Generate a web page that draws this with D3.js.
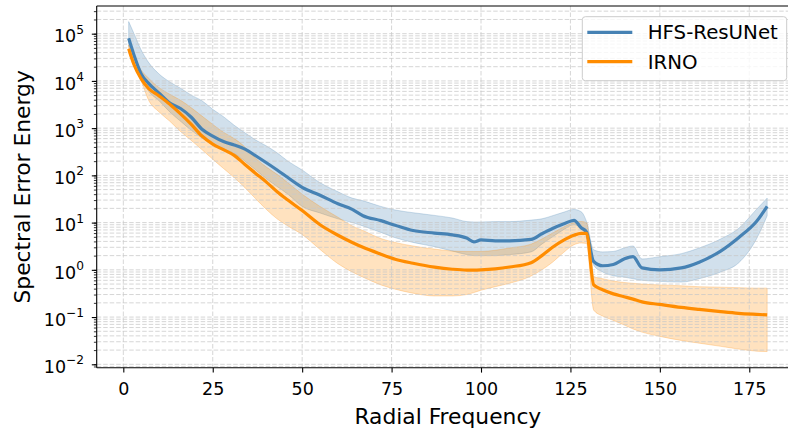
<!DOCTYPE html>
<html>
<head>
<meta charset="utf-8">
<script src="https://cdn.jsdelivr.net/npm/d3@7"></script>
<style>
  html, body { margin: 0; padding: 0; background: #ffffff; }
  svg { display: block; font-family: "DejaVu Sans", sans-serif; }
</style>
</head>
<body>
<svg id="chart" width="788" height="434"></svg>
<script>
// Radial frequency samples shared by every series
const freq = [1.5, 3, 5, 7, 10, 13, 16, 19, 22, 25, 28, 31, 34, 37, 40, 43, 46, 50, 55, 60,
  64, 67, 72, 76, 81, 87, 92, 96, 98, 100, 104, 108, 114, 117, 120, 123, 126, 128, 129.5, 131.5,
  134, 137, 140, 142.5, 145, 150, 156, 161, 167, 172, 177, 180];

// HFS-ResUNet: mean spectral error energy and its spread
const hfsMean = [80000, 35000, 14000, 9000, 5500, 3400, 2600, 1700, 950, 680, 520, 440, 360, 260, 185, 130, 90, 56, 38, 25,
  19, 14, 11, 8.8, 6.8, 6.0, 5.5, 4.7, 3.9, 4.3, 4.1, 4.1, 4.4, 5.8, 7.5, 9.3, 11.2, 7.8, 6.3, 1.5,
  1.22, 1.3, 1.7, 1.9, 1.1, 1.0, 1.1, 1.45, 2.5, 4.8, 10.5, 22];
const hfsLow = [55000, 30000, 12000, 6200, 3800, 2200, 1400, 900, 620, 460, 360, 290, 200, 130, 85, 58, 40, 22, 16, 12,
  10, 8.5, 6.2, 4.8, 3.8, 3.1, 2.5, 2.1, 2.0, 2.0, 2.0, 2.1, 2.4, 3.5, 5.0, 7.0, 9.0, 7.5, 5.5, 1.25,
  0.9, 0.75, 0.7, 0.65, 0.6, 0.57, 0.55, 0.65, 0.9, 1.4, 4.5, 14];
const hfsHigh = [180000, 100000, 45000, 25000, 14000, 9500, 7000, 5000, 3800, 2500, 1750, 1150, 800, 560, 420, 300, 200, 130, 70, 45,
  33, 29, 22, 18.5, 16.2, 14.2, 12.5, 10.5, 10.3, 10.3, 10.5, 10.5, 11.3, 12, 14, 16.5, 19, 17, 10.5, 2.65,
  2.4, 2.45, 2.9, 3.2, 1.7, 1.9, 2.2, 2.9, 4.5, 7.5, 19, 33];

// IRNO: mean spectral error energy and its spread
const irnoMean = [48000, 22000, 11000, 7000, 4800, 3200, 2000, 1200, 680, 460, 350, 265, 170, 110, 72, 45, 30, 18, 9, 5.4,
  3.8, 3.0, 2.15, 1.68, 1.38, 1.14, 1.03, 0.99, 0.99, 1.0, 1.05, 1.15, 1.42, 2.0, 3.0, 4.2, 5.4, 5.9, 5.9, 0.48,
  0.38, 0.31, 0.27, 0.24, 0.21, 0.185, 0.16, 0.145, 0.13, 0.12, 0.114, 0.111];
const irnoLow = [40000, 20000, 10000, 4000, 2200, 1400, 850, 550, 350, 220, 140, 90, 55, 32, 19, 12, 8.5, 5.6, 2.7, 1.35,
  0.9, 0.7, 0.48, 0.39, 0.32, 0.28, 0.28, 0.3, 0.33, 0.37, 0.44, 0.52, 0.74, 1.0, 1.45, 2.3, 3.4, 3.7, 3.6, 0.14,
  0.105, 0.085, 0.068, 0.056, 0.048, 0.039, 0.032, 0.028, 0.024, 0.021, 0.019, 0.0186];
const irnoHigh = [58000, 32000, 17000, 11500, 7200, 5200, 3900, 2700, 1800, 1200, 820, 600, 400, 230, 150, 105, 70, 40, 22, 13,
  8.5, 6.8, 4.6, 3.8, 3.2, 2.75, 2.5, 2.45, 2.45, 2.45, 2.6, 2.9, 3.5, 4.5, 6.0, 8.0, 10.0, 10.5, 10.0, 0.72,
  0.65, 0.58, 0.54, 0.52, 0.5, 0.48, 0.46, 0.44, 0.43, 0.42, 0.41, 0.41];

// Axis ticks
const xTicks = [0, 25, 50, 75, 100, 125, 150, 175];
const yExponents = [-2, -1, 0, 1, 2, 3, 4, 5];

const seriesNames = ["HFS-ResUNet", "IRNO"];
const seriesColors = ["#4682b4", "#ff8c00"];

const svg = d3.select("#chart");
const plot = { left: 96.7, right: 799, top: 6, bottom: 367.7 };

const x = d3.scaleLinear().domain([-7.44, 188.9]).range([plot.left, plot.right]);
const y = d3.scaleLog().domain([Math.pow(10, -2.072), Math.pow(10, 5.586)]).range([plot.bottom, plot.top]);

svg.append("rect").attr("width", 788).attr("height", 434).attr("fill", "#ffffff");

svg.append("clipPath").attr("id", "plot-clip")
  .append("rect")
  .attr("x", plot.left).attr("y", plot.top)
  .attr("width", plot.right - plot.left).attr("height", plot.bottom - plot.top);

const body = svg.append("g").attr("clip-path", "url(#plot-clip)");

// Log-scale minor and major values for horizontal grid lines and ticks
const yAll = [];
for (let e = -3; e <= 5; e++) {
  for (let m = 1; m <= 9; m++) {
    const v = m * Math.pow(10, e);
    if (v >= y.domain()[0] && v <= y.domain()[1]) yAll.push(v);
  }
}

const series = [
  { name: seriesNames[0], color: seriesColors[0], mean: hfsMean, low: hfsLow, high: hfsHigh },
  { name: seriesNames[1], color: seriesColors[1], mean: irnoMean, low: irnoLow, high: irnoHigh }
];

const area = d3.area()
  .x((d, i) => x(freq[i]))
  .curve(d3.curveMonotoneX);
const line = d3.line()
  .x((d, i) => x(freq[i]))
  .curve(d3.curveMonotoneX);

// Shaded spread bands
series.forEach(s => {
  body.append("path")
    .datum(s.mean)
    .attr("d", area.y0((d, i) => y(s.low[i])).y1((d, i) => y(s.high[i])))
    .attr("fill", s.color)
    .attr("fill-opacity", 0.25)
    .attr("stroke", s.color)
    .attr("stroke-opacity", 0.25)
    .attr("stroke-width", 1);
});

// Dashed grid
const grid = body.append("g")
  .attr("stroke", "#c8c8c8")
  .attr("stroke-opacity", 0.75)
  .attr("stroke-width", 1)
  .attr("stroke-dasharray", "4.5,2");
grid.selectAll("line.h").data(yAll).join("line")
  .attr("x1", plot.left).attr("x2", plot.right)
  .attr("y1", d => y(d)).attr("y2", d => y(d));
grid.selectAll("line.v").data(xTicks).join("line")
  .attr("x1", d => x(d)).attr("x2", d => x(d))
  .attr("y1", plot.top).attr("y2", plot.bottom);

// Mean lines
series.forEach(s => {
  body.append("path")
    .datum(s.mean)
    .attr("d", line.y(d => y(d)))
    .attr("fill", "none")
    .attr("stroke", s.color)
    .attr("stroke-width", 3.2)
    .attr("stroke-linejoin", "round")
    .attr("stroke-linecap", "butt");
});

// X axis
const xAxis = svg.append("g")
  .attr("transform", `translate(0,${plot.bottom})`)
  .call(d3.axisBottom(x).tickValues(xTicks).tickSize(4.9).tickSizeOuter(0).tickFormat(d3.format("d")));
xAxis.select(".domain").remove();
xAxis.selectAll(".tick line").attr("stroke", "#000").attr("stroke-width", 1.1);
xAxis.selectAll(".tick text")
  .attr("y", 395.5 - plot.bottom).attr("dy", null)
  .attr("fill", "#000")
  .style("font-size", "17.5px")
  .style("font-family", "DejaVu Sans");

// Y axis: minor ticks
const yMinor = svg.append("g")
  .attr("transform", `translate(${plot.left},0)`)
  .call(d3.axisLeft(y).tickValues(yAll).tickSize(2.8).tickFormat(""));
yMinor.select(".domain").remove();
yMinor.selectAll(".tick line").attr("stroke", "#000").attr("stroke-width", 0.8);

// Y axis: major ticks with power-of-ten labels
const majors = yExponents.map(e => Math.pow(10, e));
const yMajor = svg.append("g")
  .attr("transform", `translate(${plot.left},0)`)
  .call(d3.axisLeft(y).tickValues(majors).tickSize(4.9).tickFormat(""));
yMajor.select(".domain").remove();
yMajor.selectAll(".tick line").attr("stroke", "#000").attr("stroke-width", 1.1);
yMajor.selectAll(".tick").each(function (d, i) {
  const t = d3.select(this).append("text")
    .attr("x", 84 - plot.left)
    .attr("y", 8.2)
    .attr("text-anchor", "end")
    .attr("fill", "#000")
    .style("font-size", "17.5px")
    .style("font-family", "DejaVu Sans");
  t.append("tspan").text("10");
  const ex = yExponents[i];
  t.append("tspan")
    .attr("dy", -8.6)
    .style("font-size", "12.2px")
    .text(ex < 0 ? "\u2212" + Math.abs(ex) : String(ex));
});

// Spines (left, bottom, top)
const spines = svg.append("g").attr("stroke", "#000").attr("stroke-width", 1.1).attr("fill", "none");
spines.append("line").attr("x1", plot.left).attr("x2", plot.left).attr("y1", plot.top).attr("y2", plot.bottom);
spines.append("line").attr("x1", plot.left).attr("x2", plot.right).attr("y1", plot.bottom).attr("y2", plot.bottom);
spines.append("line").attr("x1", plot.left).attr("x2", plot.right).attr("y1", plot.top).attr("y2", plot.top);
spines.append("line").attr("x1", plot.right).attr("x2", plot.right).attr("y1", plot.top).attr("y2", plot.bottom);

// Axis titles
svg.append("text")
  .attr("x", (plot.left + plot.right) / 2).attr("y", 424)
  .attr("text-anchor", "middle")
  .style("font-size", "21.8px")
  .text("Radial Frequency");
svg.append("text")
  .attr("transform", `translate(29.5,${(plot.top + plot.bottom) / 2}) rotate(-90)`)
  .attr("text-anchor", "middle")
  .style("font-size", "21.8px")
  .text("Spectral Error Energy");

// Legend
const legend = svg.append("g");
legend.append("rect")
  .attr("x", 582.3).attr("y", 16.7).attr("width", 204.4).attr("height", 64)
  .attr("rx", 3).attr("ry", 3)
  .attr("fill", "#ffffff").attr("fill-opacity", 0.8)
  .attr("stroke", "#cccccc").attr("stroke-width", 1);
const legendRows = [32.3, 61.7];
series.forEach((s, i) => {
  legend.append("line")
    .attr("x1", 587.3).attr("x2", 632.3)
    .attr("y1", legendRows[i]).attr("y2", legendRows[i])
    .attr("stroke", s.color).attr("stroke-width", 3.2);
  legend.append("text")
    .attr("x", 647.7).attr("y", legendRows[i] + 7)
    .style("font-size", "19.8px")
    .attr("fill", "#000")
    .text(s.name);
});
</script>
</body>
</html>
